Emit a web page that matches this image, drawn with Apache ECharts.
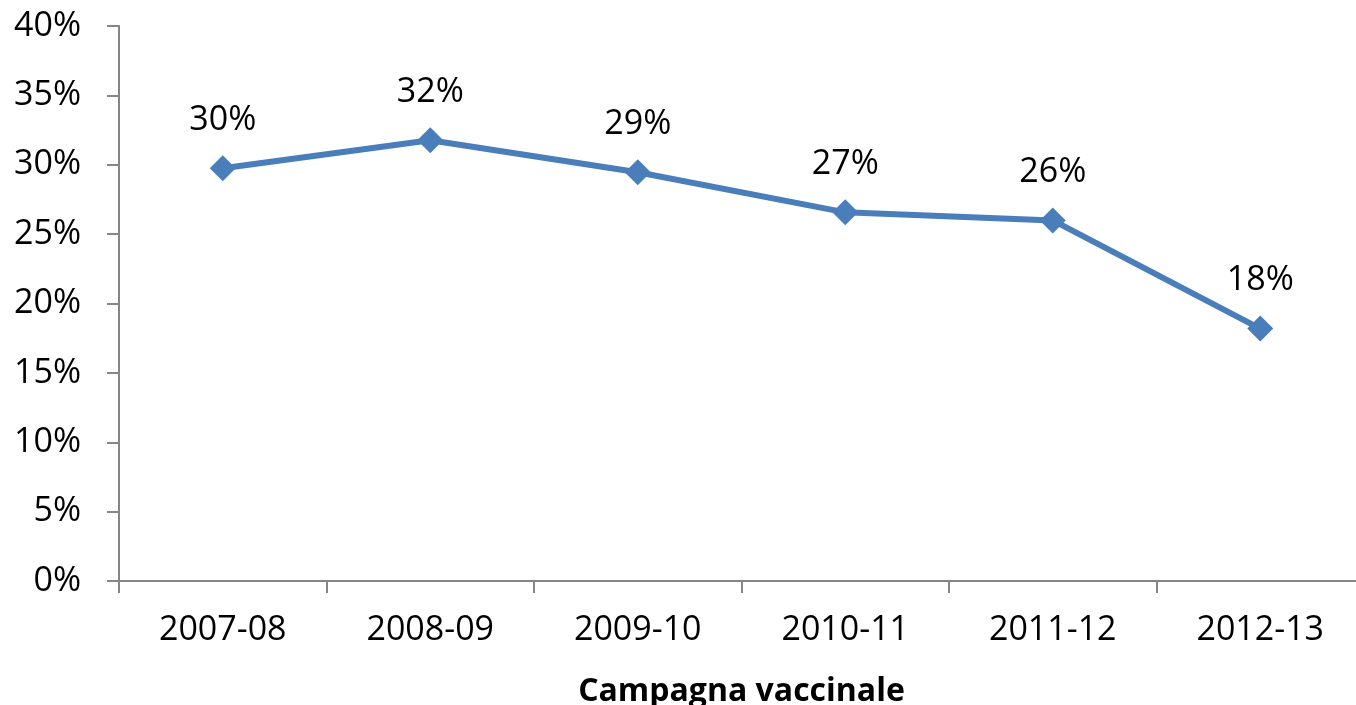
<!DOCTYPE html>
<html>
<head>
<meta charset="utf-8">
<script src="https://cdn.jsdelivr.net/npm/echarts@6/dist/echarts.min.js"></script>
<style>
html,body{margin:0;padding:0;background:#fff;}
#c{width:1356px;height:705px;}
</style>
</head>
<body>
<div id="c"></div>
<script>
const categories = ['2007-08','2008-09','2009-10','2010-11','2011-12','2012-13'];
const values = [29.75, 31.77, 29.46, 26.57, 25.99, 18.19];
const yTicks = [0, 5, 10, 15, 20, 25, 30, 35, 40];
const xTitle = 'Campagna vaccinale';

const FONT = '"Open Sans", "Noto Sans", sans-serif';
const chart = echarts.init(document.getElementById('c'), null, {renderer:'canvas'});
chart.setOption({
  animation: false,
  backgroundColor: '#fff',
  grid: {left: 119, top: 26, width: 1245, height: 555, containLabel: false, outerBoundsMode: 'none'},
  xAxis: {
    type: 'category',
    data: categories,
    boundaryGap: true,
    name: xTitle,
    nameLocation: 'middle',
    nameGap: 95,
    nameTextStyle: {fontFamily: FONT, fontSize: 32, fontWeight: 'bold', color: '#000'},
    axisLine: {lineStyle: {color: '#868686', width: 2}},
    axisTick: {show: true, length: 12, lineStyle: {color: '#868686', width: 2}},
    axisLabel: {fontFamily: FONT, fontSize: 34, color: '#000', margin: 32}
  },
  yAxis: {
    type: 'value',
    min: yTicks[0],
    max: yTicks[yTicks.length-1],
    interval: 5,
    splitLine: {show: false},
    axisLine: {show: true, lineStyle: {color: '#868686', width: 2}},
    axisTick: {show: true, length: 12, lineStyle: {color: '#868686', width: 2}},
    axisLabel: {fontFamily: FONT, fontSize: 34, color: '#000', margin: 38, formatter: v => v + '%'}
  },
  series: [{
    type: 'line',
    data: values,
    symbol: 'diamond',
    symbolSize: 26,
    lineStyle: {color: '#4A7EBB', width: 6},
    itemStyle: {color: '#4A7EBB'},
    label: {
      show: true,
      position: 'top',
      distance: 18,
      fontFamily: FONT,
      fontSize: 34,
      color: '#000',
      formatter: p => Math.round(p.value) + '%'
    }
  }]
});
</script>
</body>
</html>
